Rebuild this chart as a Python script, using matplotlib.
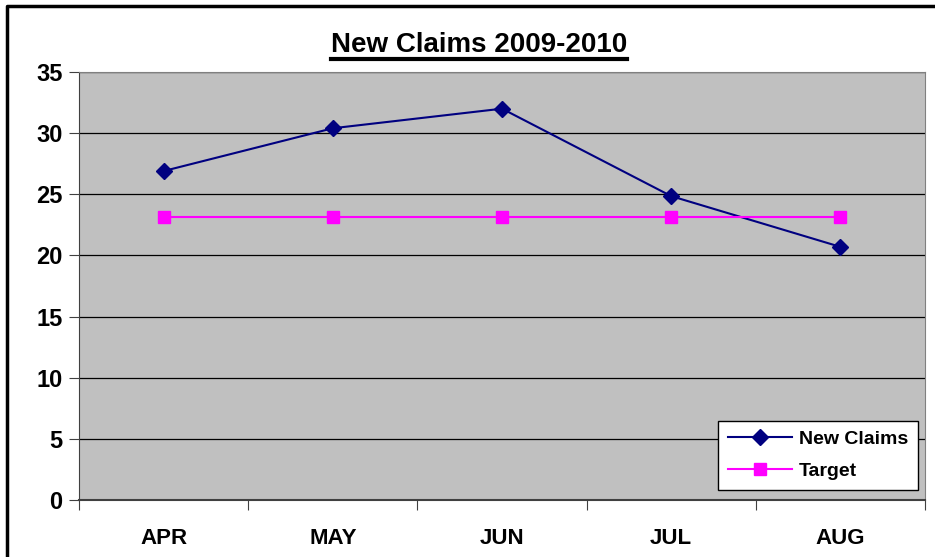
import matplotlib
matplotlib.use("Agg")
import matplotlib.pyplot as plt
from matplotlib.lines import Line2D

plt.rcParams["font.family"] = ["Liberation Sans", "DejaVu Sans"]

months = ["APR", "MAY", "JUN", "JUL", "AUG"]
new_claims = [26.9, 30.4, 32.0, 24.85, 20.7]
target = [23.15, 23.15, 23.15, 23.15, 23.15]
title = "New Claims 2009-2010"

fig = plt.figure(figsize=(9.35, 5.57), dpi=100)
ax = fig.add_axes([79 / 935, 1 - 500 / 557, 846 / 935, 428 / 557])
ax.set_facecolor("#C0C0C0")

x = list(range(len(months)))
ax.plot(x, new_claims, color="#000080", lw=1.5, marker="D", ms=8, label="New Claims")
ax.plot(x, target, color="#FF00FF", lw=1.5, marker="s", ms=8, label="Target")

ax.set_xlim(-0.5, len(months) - 0.5)
ax.set_ylim(0, 35)
ax.set_yticks(range(0, 36, 5))
ax.yaxis.grid(True, color="black", lw=0.9)
ax.set_axisbelow(True)
ax.set_xticks([i - 0.5 for i in range(len(months) + 1)])
ax.set_xticklabels([])
ax.set_xticks(x, minor=True)
ax.set_xticklabels(months, minor=True)
ax.tick_params(axis="x", which="minor", length=0, pad=20, labelsize=16)
ax.tick_params(axis="x", which="major", length=7, color="#404040", direction="out")
ax.tick_params(axis="y", length=7, color="#404040", direction="out", labelsize=17, pad=5)
for lab in ax.get_xticklabels(minor=True) + ax.get_yticklabels():
    lab.set_fontweight("bold")

ax.spines["left"].set_color("#404040")
ax.spines["bottom"].set_color("#404040")
ax.spines["bottom"].set_linewidth(1.5)
ax.spines["top"].set_color("#808080")
ax.spines["right"].set_color("#808080")

leg = ax.legend(loc="lower right", bbox_to_anchor=(918 / 935, 1 - 490 / 557),
                bbox_transform=fig.transFigure, fancybox=False, framealpha=1,
                edgecolor="black", prop={"weight": "bold", "size": 14},
                handlelength=3.3, borderpad=0.5, labelspacing=0.75, handletextpad=0.35,
                borderaxespad=0)
leg.get_frame().set_linewidth(1.0)

t = fig.text(479 / 935, 1 - 45 / 557, title, ha="center", va="center",
             fontsize=20, fontweight="bold")
fig.canvas.draw()
bb = t.get_window_extent().transformed(fig.transFigure.inverted())
fig.add_artist(Line2D([bb.x0, bb.x1], [bb.y0 - 0.002, bb.y0 - 0.002],
                      transform=fig.transFigure, color="black", lw=3))

# outer chart border (left and top visible, rest cut off)
fig.add_artist(Line2D([7 / 935, 7 / 935, 1.0], [0.0, 1 - 6 / 557, 1 - 6 / 557],
                      transform=fig.transFigure, color="black", lw=2.5))

fig.savefig("out.png", dpi=100)
